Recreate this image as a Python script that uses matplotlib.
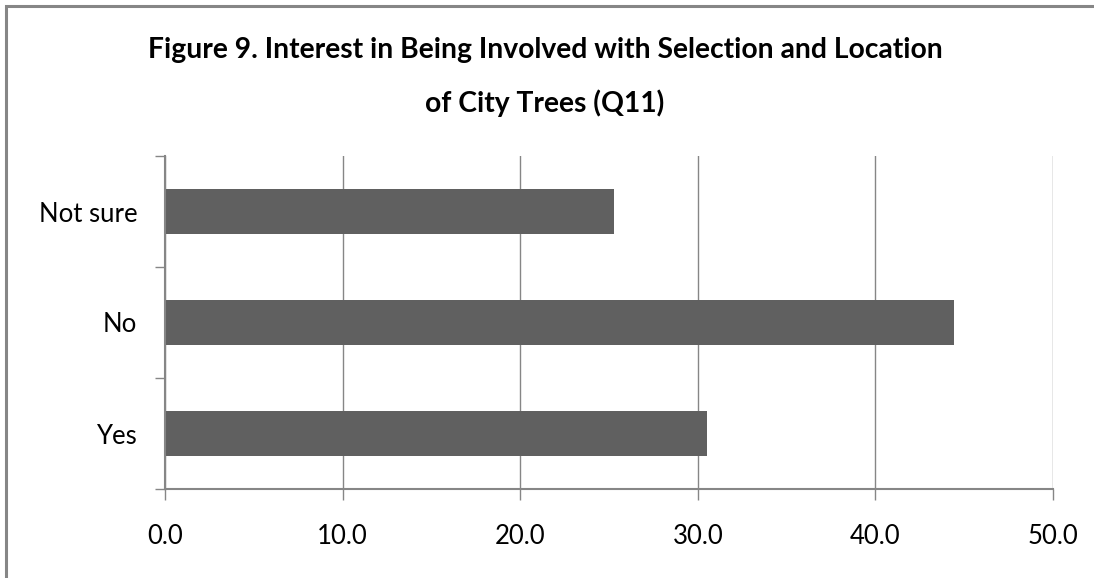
"""Interest in being involved with selection and location of city trees (Q11)."""

import matplotlib

matplotlib.use("Agg")

import matplotlib.pyplot as plt
from matplotlib.patches import Rectangle

categories = ["Yes", "No", "Not sure"]
percentages = [30.5, 44.4, 25.3]
x_ticks = [0, 10, 20, 30, 40, 50]

GREY = "#868686"
BAR = "#606060"
FONT = ["Lato", "DejaVu Sans"]


def main():
    fig = plt.figure(figsize=(10.94, 5.78), dpi=100)
    ax = fig.add_axes([165 / 1094, 1 - 489 / 578, (1053 - 165) / 1094, (489 - 156) / 578])

    positions = range(len(categories))
    ax.barh(positions, percentages, height=0.4, color=BAR, zorder=3)

    ax.set_xlim(0, 50)
    ax.set_ylim(-0.5, len(categories) - 0.5)
    ax.set_xticks(x_ticks)
    ax.set_xticklabels([f"{t:.1f}" for t in x_ticks], fontsize=18.5, family=FONT)
    ax.set_yticks(list(positions))
    ax.set_yticklabels(categories, fontsize=18.5, family=FONT)
    ax.set_yticks([i - 0.5 for i in range(len(categories) + 1)], minor=True)

    ax.tick_params(axis="y", which="major", length=0, pad=20)
    ax.tick_params(axis="y", which="minor", length=7, width=1, color=GREY)
    ax.tick_params(axis="x", length=8, width=1, color=GREY, pad=17)

    ax.grid(axis="x", color=GREY, linewidth=1, zorder=0)
    for side in ("top", "right"):
        ax.spines[side].set_visible(False)
    for side in ("left", "bottom"):
        ax.spines[side].set_color(GREY)
        ax.spines[side].set_linewidth(1.5)
        ax.spines[side].set_zorder(4)

    fig.text(
        545 / 1094,
        1 - 50 / 578,
        "Figure 9. Interest in Being Involved with Selection and Location",
        ha="center",
        va="center",
        fontsize=20.3,
        fontweight="bold",
        family=FONT,
    )
    fig.text(
        545 / 1094,
        1 - 103 / 578,
        "of City Trees (Q11)",
        ha="center",
        va="center",
        fontsize=20.3,
        fontweight="bold",
        family=FONT,
    )

    # outer chart frame (right and bottom edges fall outside the crop)
    fig.patches.append(
        Rectangle(
            (6 / 1094, -0.05),
            1.1,
            1.05 - 6 / 578,
            transform=fig.transFigure,
            fill=False,
            edgecolor=GREY,
            linewidth=2.2,
        )
    )

    fig.savefig("out.png", dpi=100)
    plt.close(fig)


if __name__ == "__main__":
    main()
